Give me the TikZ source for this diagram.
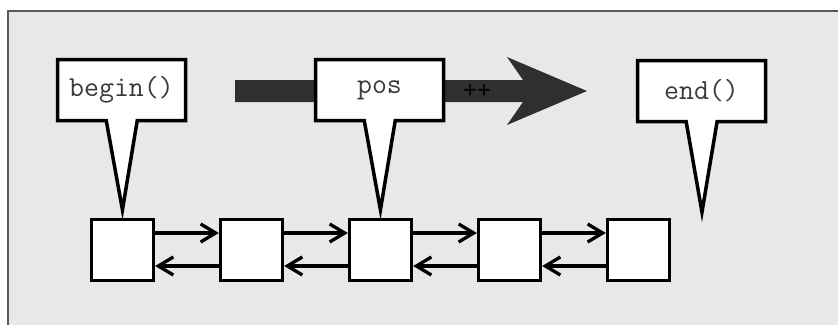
\documentclass[tikz,border=0pt]{standalone}
\usepackage{fontspec}
\usepackage{tikz}
\usetikzlibrary{arrows.meta, shapes.callouts, positioning}
\definecolor{paper}{HTML}{E8E8E8}
\definecolor{ink}{HTML}{3A3A3A}
\definecolor{band}{HTML}{2F2F2F}

\begin{document}
\begin{tikzpicture}[x=1pt, y=-1pt,
  cell/.style={draw, line width=3.3pt, fill=white, minimum width=62pt, minimum height=61pt, inner sep=0pt},
  tag/.style={rectangle callout, draw, line width=3.5pt, fill=white, minimum width=128pt, minimum height=61pt,
    callout pointer width=31pt, callout pointer shorten=8pt, text=ink, font=\ttfamily\fontsize{29}{34}\selectfont},
  link/.style={line width=3.3pt, -{Straight Barb[length=15pt,width=18pt]}}]
\useasboundingbox (0,0) rectangle (838,325);
% 底色和边框
\fill[paper] (8,11) rectangle (838,325);
\draw[gray!70!black, line width=1.5pt] (8,325) -- (8,11) -- (838,11);

% 粗箭头 ++
\fill[band] (235,80) -- (523,80) -- (507,57) -- (587,91) -- (507,125) -- (523,102) -- (235,102) -- cycle;
\node[font=\ttfamily\fontsize{27}{30}\selectfont, text=black] (inc) at (477,91) {++};

% 链表结点
\foreach \i in {1,...,5}
  \node[cell] (n\i) at ({122.5+129*(\i-1)},250) {};
\foreach \i [count=\j from 2] in {1,...,4} {
  \draw[link] ([yshift=17pt]n\i.east) -- ([yshift=17pt]n\j.west);
  \draw[link] ([yshift=-16pt]n\j.west) -- ([yshift=-16pt]n\i.east);
}

% 迭代器
\coordinate (past) at (702,220);
\node[tag, callout absolute pointer={(n1.north)}] (first) at (121.5,90) {begin()};
\node[tag, callout absolute pointer={(n3.north)}] (pos) at (379.5,90) {pos};
\node[tag, callout absolute pointer={(past)}] (last) at (701.5,91) {end()};
\end{tikzpicture}
\end{document}
